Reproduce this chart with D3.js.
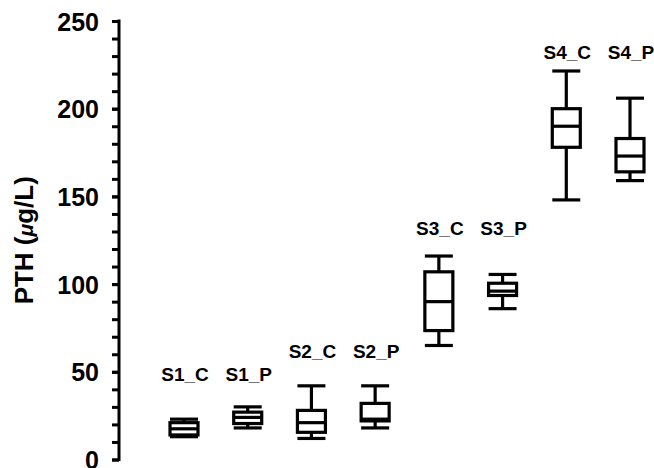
<!DOCTYPE html>
<html>
<head>
<meta charset="utf-8">
<script src="https://cdn.jsdelivr.net/npm/d3@7"></script>
<style>
  body { margin: 0; background: #fff; }
  text { font-family: "Liberation Sans", Arial, sans-serif; font-weight: bold; }
</style>
</head>
<body>
<script>
  // groups and their box stats (ug/L)
  var groups = ["S1_C", "S1_P", "S2_C", "S2_P", "S3_C", "S3_P", "S4_C", "S4_P"];
  var mins    = [13, 18, 12, 18, 65, 86, 148, 159];
  var q1s     = [14, 20.5, 15.5, 22, 73.5, 93.5, 178, 164];
  var medians = [17.5, 24, 21, 23, 90, 96, 190, 173];
  var q3s     = [21, 27, 28, 32, 107, 100.5, 200, 183];
  var maxs    = [23, 30, 42, 42, 116, 105.5, 221.5, 206];
  // value where each group's label sits
  var labelAt = [45, 45, 58, 58, 128, 128, 228.5, 228.5];

  var majorTicks = [0, 50, 100, 150, 200, 250];

  var width = 654, height = 468;
  var boxW = 28;

  var svg = d3.select("body").append("svg")
            .attr("width", width)
            .attr("height", height)

  var x = d3.scalePoint().domain(groups).range([184, 630]);
  var y = d3.scaleLinear().domain([0, 250]).range([459.5, 21]);

  var data = groups.map(function(g, i) {
    return {name: g, min: mins[i], q1: q1s[i], med: medians[i], q3: q3s[i], max: maxs[i], lab: labelAt[i]};
  });

  // minor ticks every 10
  var minor = svg.append("g")
    .attr("transform", "translate(119,0)")
    .call(d3.axisLeft(y).tickValues(d3.range(0, 251, 10)).tickSize(7).tickSizeOuter(0).tickFormat(""));
  minor.select(".domain").remove();
  minor.selectAll("line").attr("stroke", "#000").attr("stroke-width", 3);

  var yAxis = svg.append("g")
    .attr("transform", "translate(119,0)")
    .call(d3.axisLeft(y).tickValues(majorTicks).tickSize(7).tickSizeOuter(0).tickPadding(13));
  yAxis.select(".domain").attr("stroke", "#000").attr("stroke-width", 3)
    .attr("d", "M0," + (y(0) + 1.5) + "V" + (y(250) - 1.5));
  yAxis.selectAll("line").attr("stroke", "#000").attr("stroke-width", 3);
  yAxis.selectAll("text")
    .attr("fill", "#000")
    .style("font-size", "25px")
    .attr("dy", "0.36em");

  // y label
  var ylab = svg.append("text")
    .attr("transform", "translate(33," + ((y(0) + y(250)) / 2) + ") rotate(-90)")
    .attr("text-anchor", "middle")
    .style("font-size", "26px")
    .attr("fill", "#000");
  ylab.append("tspan").text("PTH (");
  ylab.append("tspan").text("\u03bc").style("font-style", "italic").style("font-size", "21px");
  ylab.append("tspan").text("g/L)");

  var g = svg.append("g").selectAll("g")
    .data(data)
    .enter()
    .append("g")
    .attr("stroke", "#000")
    .attr("stroke-width", 3.2)
    .attr("fill", "none");

  // whiskers
  g.append("line")
    .attr("x1", function(d) { return x(d.name) })
    .attr("x2", function(d) { return x(d.name) })
    .attr("y1", function(d) { return y(d.max) })
    .attr("y2", function(d) { return y(d.min) });

  // caps
  g.append("line")
    .attr("x1", function(d) { return x(d.name) - boxW / 2 })
    .attr("x2", function(d) { return x(d.name) + boxW / 2 })
    .attr("y1", function(d) { return y(d.max) })
    .attr("y2", function(d) { return y(d.max) });
  g.append("line")
    .attr("x1", function(d) { return x(d.name) - boxW / 2 })
    .attr("x2", function(d) { return x(d.name) + boxW / 2 })
    .attr("y1", function(d) { return y(d.min) })
    .attr("y2", function(d) { return y(d.min) });

  // boxes
  g.append("rect")
    .attr("x", function(d) { return x(d.name) - boxW / 2 })
    .attr("y", function(d) { return y(d.q3) })
    .attr("width", boxW)
    .attr("height", function(d) { return y(d.q1) - y(d.q3) })
    .attr("fill", "#fff");

  // medians
  g.append("line")
    .attr("x1", function(d) { return x(d.name) - boxW / 2 })
    .attr("x2", function(d) { return x(d.name) + boxW / 2 })
    .attr("y1", function(d) { return y(d.med) })
    .attr("y2", function(d) { return y(d.med) });

  // group labels
  svg.append("g").selectAll("text")
    .data(data)
    .enter()
    .append("text")
    .attr("x", function(d) { return x(d.name) + 1 })
    .attr("y", function(d) { return y(d.lab) })
    .attr("text-anchor", "middle")
    .style("font-size", "19px")
    .attr("fill", "#000")
    .text(function(d) { return d.name });
</script>
</body>
</html>
